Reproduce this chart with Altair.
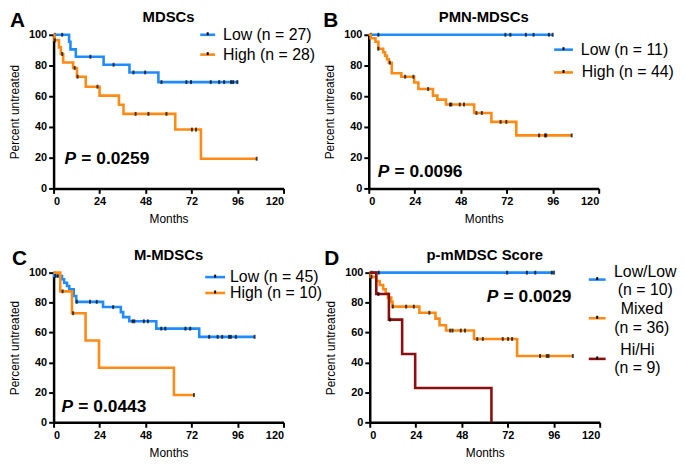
import altair as alt
import pandas as pd

FONT = "Liberation Sans"
BLUE = "#1f8bff"
ORANGE = "#ff8a14"
DARKRED = "#8b0f0f"

X_TICKS = [0, 24, 48, 72, 96, 120]
Y_TICKS = [0, 20, 40, 60, 80, 100]

# ---------------- Panel A : MDSCs ----------------
a_low_t = [0, 8.1, 8.8, 11.6, 26.1, 39.6, 54.7, 96.3]
a_low_s = [100, 95.5, 90.5, 85.7, 80.5, 75.5, 69.2, 69.2]
a_low_ct = [0.7, 4.5, 19.2, 31.3, 41.7, 47.8, 56.3, 69.3, 71.7, 82, 86.4, 89, 92.6, 93.7, 95.9]
a_low_cs = [100, 100, 85.7, 80.5, 75.5, 75.5, 69.2, 69.2, 69.2, 69.2, 69.2, 69.2, 69.2, 69.2, 69.2]
a_high_t = [0, 0.5, 2.8, 3.8, 5, 10.2, 12.2, 16.8, 24, 34.1, 36.5, 63.5, 76.9, 106]
a_high_s = [100, 96.4, 91.8, 87.5, 82, 78.4, 72.7, 66.2, 60.4, 54.5, 48.5, 38.3, 19.3, 19.3]
a_high_ct = [0.7, 4.5, 11, 12.5, 22.9, 42.8, 49.5, 58.9, 72.2, 74.3, 106]
a_high_cs = [96.4, 87.5, 78.4, 72.7, 66.2, 48.5, 48.5, 48.5, 38.3, 38.3, 19.3]

# ---------------- Panel B : PMN-MDSCs ----------------
b_low_t = [0, 96]
b_low_s = [100, 100]
b_low_ct = [1.2, 5, 71.3, 73.9, 82, 86, 94, 96]
b_low_cs = [100, 100, 100, 100, 100, 100, 100, 100]
b_high_t = [0, 1, 3.5, 5, 7.5, 8.5, 9.5, 10.5, 12, 17, 23.7, 25.9, 33.5, 35.8, 40.3, 55, 64, 77, 106]
b_high_s = [100, 97.7, 95.5, 90.9, 88.6, 86.4, 84.1, 81.8, 75, 72.7, 68.9, 64.7, 60.4, 57.8, 54.6, 49.1, 43.3, 34.5, 34.5]
b_high_ct = [5, 11, 19, 23.3, 31, 42.4, 43.1, 47.5, 49.7, 56.2, 59, 68.8, 71.8, 88.9, 92, 92.6, 105.9]
b_high_cs = [90.9, 81.8, 72.7, 72.7, 64.7, 54.6, 54.6, 54.6, 54.6, 49.1, 49.1, 43.3, 43.3, 34.5, 34.5, 34.5, 34.5]

# ---------------- Panel C : M-MDSCs ----------------
c_low_t = [0, 0.3, 4.4, 5.5, 7, 8.2, 10.5, 11.8, 25.8, 35.1, 36.3, 39.5, 53.6, 76, 105]
c_low_s = [100, 97.8, 95.6, 93.3, 91.1, 88.9, 84.4, 80.5, 77, 73.6, 70.3, 67.5, 62.6, 57.1, 57.1]
c_low_ct = [0.9, 2.1, 12.1, 19, 22.5, 31.1, 41.2, 42.1, 47.1, 49.2, 56.2, 58.3, 68.8, 71.3,
            81.2, 85.6, 88, 91.6, 92.5, 95.1, 104.9]
c_low_cs = [97.8, 97.8, 80.5, 80.5, 80.5, 77, 67.5, 67.5, 67.5, 67.5, 62.6, 62.6, 62.6, 62.6,
            57.1, 57.1, 57.1, 57.1, 57.1, 57.1, 57.1]
c_high_t = [0, 3.5, 9.6, 16.7, 23.7, 62.8, 73.3]
c_high_s = [100, 87.5, 72.9, 54.7, 36.5, 18.2, 18.2]
c_high_ct = [4.7, 10.2, 73.3]
c_high_cs = [87.5, 72.9, 18.2]

# ---------------- Panel D : p-mMDSC Score ----------------
d_low_t = [0, 96]
d_low_s = [100, 100]
d_low_ct = [0.9, 4.7, 71.7, 82, 86.4, 95, 96.2]
d_low_cs = [100, 100, 100, 100, 100, 100, 100]
d_mix_t = [0, 0.5, 3.4, 5.2, 7, 8.3, 9.5, 11.2, 11.9, 25.9, 34.3, 36.4, 39.8, 54.4, 76.9, 105.9]
d_mix_s = [100, 97.2, 94.4, 91.7, 88.9, 86.1, 83.3, 80.5, 77.3, 73.2, 69.3, 64.8, 61.3, 55.7, 44.3, 44.3]
d_mix_ct = [0.9, 12, 19, 23, 31.1, 42, 43.2, 47.5, 49.7, 56.1, 59, 69.4, 72.2, 74.3, 88.9, 92.4, 93.3, 106]
d_mix_cs = [97.2, 77.3, 77.3, 77.3, 73.2, 61.3, 61.3, 61.3, 61.3, 55.7, 55.7, 55.7, 55.7, 55.7,
            44.3, 44.3, 44.3, 44.3]
d_hi_t = [0, 3.4, 10, 16.9, 23.7, 63.5]
d_hi_s = [100, 85.7, 68.6, 45.7, 22.9, 0]
d_hi_ct = [4.5, 10.6]
d_hi_cs = [85.7, 68.6]

W, H1, H2 = 232, 155, 151
ONE = pd.DataFrame({"k": [0]})


def xenc():
    return alt.X("t:Q", scale=alt.Scale(domain=[0, 120], nice=False),
                 axis=alt.Axis(values=X_TICKS, title="Months"))


def yenc():
    return alt.Y("s:Q", scale=alt.Scale(domain=[0, 100], nice=False),
                 axis=alt.Axis(values=Y_TICKS, title="Percent untreated"))


def series_layers(t, s, ct, cs, color):
    line = alt.Chart(pd.DataFrame({"t": t, "s": s})).mark_line(
        color=color, strokeWidth=2.6, interpolate="step-after"
    ).encode(x=xenc(), y=yenc())
    cens = alt.Chart(pd.DataFrame({"t": ct, "s": cs})).mark_tick(
        orient="vertical", size=4, thickness=2, color="black"
    ).encode(x=xenc(), y=yenc())
    return [line, cens]


def txt(text, x, y, size=16, weight="normal", style="normal", align="left", baseline="middle"):
    return alt.Chart(ONE).mark_text(
        text=text, font=FONT, fontSize=size, fontWeight=weight, fontStyle=style,
        align=align, baseline=baseline, color="black"
    ).encode(x=alt.value(x), y=alt.value(y))


def sym(color, x1, x2, y):
    rule = alt.Chart(ONE).mark_rule(color=color, strokeWidth=2.6).encode(
        x=alt.value(x1), x2=alt.value(x2), y=alt.value(y))
    xm = (x1 + x2) / 2
    dot = alt.Chart(ONE).mark_rect(color="black").encode(
        x=alt.value(xm - 1), x2=alt.value(xm + 1), y=alt.value(y - 2.5), y2=alt.value(y + 0.5))
    return [rule, dot]


def panel(h, title, letter, letter_x, series, pnum, p_x, p_y, legend):
    layers = []
    for t, s, ct, cs, color in series:
        layers += series_layers(t, s, ct, cs, color)
    layers.append(txt(title, W / 2, -24.5, size=15, weight="bold", align="center", baseline="top"))
    layers.append(txt(letter, letter_x, -24.5, size=21, weight="bold", baseline="top"))
    layers.append(txt("P", p_x, p_y, size=17.5, weight="bold", style="italic"))
    layers.append(txt("= " + pnum, p_x + 17, p_y, size=17.5, weight="bold"))
    layers += legend
    return alt.layer(*layers).properties(width=W, height=h)


legA = (sym(BLUE, 148, 163, 0) + [txt("Low (n = 27)", 171, 0)]
        + sym(ORANGE, 148, 163, 20) + [txt("High (n = 28)", 171, 20)])
legB = (sym(BLUE, 187, 206, 15) + [txt("Low (n = 11)", 214, 15)]
        + sym(ORANGE, 187, 206, 38) + [txt("High (n = 44)", 215, 38)])
legC = (sym(BLUE, 153, 173, 4.5) + [txt("Low (n = 45)", 178, 4.5)]
        + sym(ORANGE, 153, 173, 20.5) + [txt("High (n = 10)", 178, 20.5)])
legD = (sym(BLUE, 221, 238, 7) + [txt("Low/Low", 278, -1, align="center"),
                                   txt("(n = 10)", 278, 18, align="center")]
        + sym(ORANGE, 221, 238, 46) + [txt("Mixed", 274.5, 37, align="center"),
                                        txt("(n = 36)", 274.5, 56, align="center")]
        + sym(DARKRED, 221, 238, 87) + [txt("Hi/Hi", 270, 78, align="center"),
                                         txt("(n = 9)", 270, 96, align="center")])

pA = panel(H1, "MDSCs", "A", -44,
           [(a_low_t, a_low_s, a_low_ct, a_low_cs, BLUE),
            (a_high_t, a_high_s, a_high_ct, a_high_cs, ORANGE)],
           "0.0259", 11, 125, legA)
pB = panel(H1, "PMN-MDSCs", "B", -46,
           [(b_low_t, b_low_s, b_low_ct, b_low_cs, BLUE),
            (b_high_t, b_high_s, b_high_ct, b_high_cs, ORANGE)],
           "0.0096", 9, 138, legB)
pC = panel(H2, "M-MDSCs", "C", -42,
           [(c_low_t, c_low_s, c_low_ct, c_low_cs, BLUE),
            (c_high_t, c_high_s, c_high_ct, c_high_cs, ORANGE)],
           "0.0443", 8, 136, legC)
pD = panel(H2, "p-mMDSC Score", "D", -46,
           [(d_low_t, d_low_s, d_low_ct, d_low_cs, BLUE),
            (d_mix_t, d_mix_s, d_mix_ct, d_mix_cs, ORANGE),
            (d_hi_t, d_hi_s, d_hi_ct, d_hi_cs, DARKRED)],
           "0.0029", 118, 25, legD)

row1 = alt.hconcat(pA, pB, spacing=8)
row2 = alt.hconcat(pC, pD, spacing=2)
chart = alt.vconcat(row1, row2, spacing=24).properties(
    padding={"left": 0, "top": 0, "right": 0, "bottom": 0}
).configure_view(strokeWidth=0).configure_axis(
    domainColor="black", domainWidth=2.5, tickColor="black", tickWidth=2, tickSize=5,
    labelFont=FONT, labelFontWeight="bold", labelFontSize=11, labelColor="black", labelPadding=2,
    titleFont=FONT, titleFontWeight="normal", titleFontSize=12, titleColor="black",
    titlePadding=7, grid=False
)

chart.save("out.html", embed_options={"renderer": "svg", "actions": False})
